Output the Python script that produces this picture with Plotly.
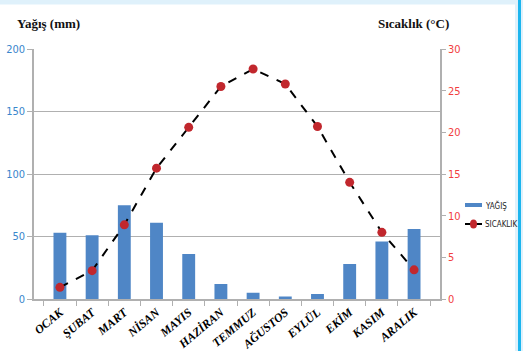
import plotly.graph_objects as go

# Monthly climate data
months = ["OCAK", "ŞUBAT", "MART", "NİSAN", "MAYIS", "HAZİRAN",
          "TEMMUZ", "AĞUSTOS", "EYLÜL", "EKİM", "KASIM", "ARALIK"]
rain_mm = [53, 51, 75, 61, 36, 12, 5, 2, 4, 28, 46, 56]
temp_c = [1.4, 3.4, 8.9, 15.7, 20.6, 25.5, 27.6, 25.8, 20.7, 14.0, 8.0, 3.5]

rain_ticks = [0, 50, 100, 150, 200]
temp_ticks = [0, 5, 10, 15, 20, 25, 30]

W, H = 523, 351
ML, MR, MT, MB = 34, 83, 49, 52
PW, PH = W - ML - MR, H - MT - MB


def px_x(x):
    return (x - ML) / PW


def px_y(y):
    return (H - MB - y) / PH


BAR = "#4F86C6"
DOT = "#C1272D"
BLUE_TXT = "#3A86CC"
RED_TXT = "#F2403F"
GRID = "#B0B0B0"
NARROW = "DejaVu Sans Condensed, Liberation Sans Narrow, Liberation Sans"

fig = go.Figure()
fig.add_trace(go.Bar(
    x=months, y=rain_mm, name="YAĞIŞ", marker_color=BAR,
    marker_line_width=0, width=0.4, yaxis="y",
))
fig.add_trace(go.Scatter(
    x=months, y=temp_c, name="SICAKLIK", yaxis="y2", mode="lines+markers",
    line=dict(color="black", width=2, dash="dash"),
    marker=dict(color=DOT, size=9),
))

tick_font = dict(family=NARROW, size=11)

fig.update_layout(
    width=W, height=H,
    margin=dict(l=ML, r=MR, t=MT, b=MB, autoexpand=False),
    paper_bgcolor="white", plot_bgcolor="white",
    showlegend=False,
    xaxis=dict(
        type="category", tickangle=-40, tickson="boundaries", automargin=False,
        ticks="outside", ticklen=5, tickcolor=GRID,
        showline=True, linecolor=GRID, linewidth=1.5, showgrid=False,
        tickfont=dict(family="Liberation Serif", size=12, color="black",
                      weight="bold", style="italic"),
    ),
    yaxis=dict(
        range=[0, 200], tickvals=rain_ticks, automargin=False,
        showgrid=True, gridcolor=GRID, gridwidth=1.2,
        showline=True, linecolor=GRID, linewidth=1.5,
        ticks="outside", ticklen=5, tickcolor=GRID,
        tickfont=dict(color=BLUE_TXT, **tick_font),
        zeroline=False,
    ),
    yaxis2=dict(
        range=[0, 30], tickvals=temp_ticks, overlaying="y", side="right",
        automargin=False,
        showgrid=False, showline=True, linecolor=GRID, linewidth=1.5,
        ticks="outside", ticklen=4, tickcolor=GRID,
        tickfont=dict(color=RED_TXT, **tick_font),
        zeroline=False,
    ),
    bargap=0.6,
)

title_font = dict(family="Liberation Serif", size=13, color="#111", weight="bold")
fig.add_annotation(text="Yağış (mm)", x=px_x(48), y=px_y(24), xref="paper", yref="paper",
                   showarrow=False, font=title_font, xanchor="center", yanchor="middle")
fig.add_annotation(text="Sıcaklık (°C)", x=px_x(413), y=px_y(24), xref="paper", yref="paper",
                   showarrow=False, font=title_font, xanchor="center", yanchor="middle")

# Compact legend to the right of the temperature axis
leg_font = dict(family=NARROW, size=8, color="#222")
fig.add_shape(type="rect", xref="paper", yref="paper",
              x0=px_x(465), x1=px_x(482), y0=px_y(207), y1=px_y(203),
              fillcolor=BAR, line_width=0)
fig.add_shape(type="line", xref="paper", yref="paper",
              x0=px_x(465), x1=px_x(482), y0=px_y(224), y1=px_y(224),
              line=dict(color="black", width=2))
fig.add_shape(type="circle", xref="paper", yref="paper",
              x0=px_x(470), x1=px_x(477), y0=px_y(228.5), y1=px_y(219.5),
              fillcolor=DOT, line_width=0)
fig.add_annotation(text="YAĞIŞ", x=px_x(483), y=px_y(205), xref="paper", yref="paper",
                   showarrow=False, font=leg_font, xanchor="left", yanchor="middle")
fig.add_annotation(text="SICAKLIK", x=px_x(483), y=px_y(224), xref="paper", yref="paper",
                   showarrow=False, font=leg_font, xanchor="left", yanchor="middle")

# Page frame: light strip on top, light band with a cyan rule on the right
LIGHT = "#DFF1FB"
CYAN = "#1CB5EE"
fig.add_shape(type="rect", xref="paper", yref="paper", layer="below",
              x0=px_x(0), x1=px_x(W), y0=px_y(4.5), y1=px_y(0),
              fillcolor=LIGHT, line_width=0)
fig.add_shape(type="rect", xref="paper", yref="paper", layer="below",
              x0=px_x(515), x1=px_x(W), y0=px_y(H), y1=px_y(0),
              fillcolor=LIGHT, line_width=0)
fig.add_shape(type="rect", xref="paper", yref="paper", layer="below",
              x0=px_x(518), x1=px_x(521), y0=px_y(H), y1=px_y(0),
              fillcolor=CYAN, line_width=0)

fig.write_html("out.html")
